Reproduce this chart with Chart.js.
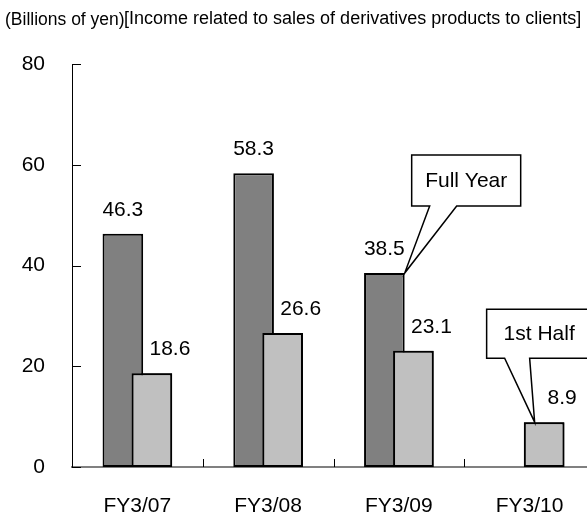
<!DOCTYPE html>
<html>
<head>
<meta charset="utf-8">
<script src="https://cdn.jsdelivr.net/npm/chart.js@4/dist/chart.umd.min.js"></script>
<style>
  html, body { margin: 0; padding: 0; background: #fff; overflow: hidden; }
  /* the plot runs a little past the right edge of the window, like the original */
  #wrap { width: 595px; height: 516px; position: relative; }
</style>
</head>
<body>
<div id="wrap"><canvas id="chart"></canvas></div>
<script>
// ---- data ----
const categories = ['FY3/07', 'FY3/08', 'FY3/09', 'FY3/10'];
const fullYear   = [46.3, 58.3, 38.5, null];
const firstHalf  = [18.6, 26.6, 23.1, 8.9];
const yTicks     = [0, 20, 40, 60, 80];

const unitText  = '(Billions of yen)';
const titleText = '[Income related to sales of derivatives products to clients]';
const fullYearNote  = 'Full Year';
const firstHalfNote = '1st Half';

const FONT = "'Liberation Sans', Arial, sans-serif";

// draws what the chart library has no option for: front bars, value labels,
// inward tick marks, heading and the two callouts
const overlay = {
  id: 'overlay',
  afterDatasetsDraw(chart) {
    const ctx = chart.ctx;
    // light bars overlap the dark ones and sit in front
    chart.getDatasetMeta(1).controller.draw();

    ctx.save();
    ctx.font = '21px ' + FONT;
    ctx.fillStyle = '#000';
    ctx.textAlign = 'center';
    ctx.textBaseline = 'alphabetic';
    chart.getDatasetMeta(0).data.forEach((bar, i) => {
      if (fullYear[i] == null) return;
      ctx.fillText(fullYear[i].toFixed(1), bar.x, bar.y - 18);
    });
    chart.getDatasetMeta(1).data.forEach((bar, i) => {
      if (firstHalf[i] == null) return;
      ctx.fillText(firstHalf[i].toFixed(1), bar.x + 18, bar.y - 18);
    });
    ctx.restore();
  },
  afterDraw(chart) {
    const ctx = chart.ctx;
    const x = chart.scales.x, y = chart.scales.y;
    const area = chart.chartArea;

    ctx.save();
    // tick marks point into the plot
    ctx.strokeStyle = '#000';
    ctx.lineWidth = 1;
    yTicks.forEach(v => {
      const py = Math.round(y.getPixelForValue(v)) + 0.5;
      ctx.beginPath();
      ctx.moveTo(area.left, py);
      ctx.lineTo(area.left + 9, py);
      ctx.stroke();
    });
    for (let i = 1; i <= categories.length; i++) {
      const px = Math.round(x.getPixelForValue(i - 0.5)) + 0.5;
      ctx.beginPath();
      ctx.moveTo(px, area.bottom);
      ctx.lineTo(px, area.bottom - 8);
      ctx.stroke();
    }

    // heading
    ctx.fillStyle = '#000';
    ctx.textAlign = 'left';
    ctx.textBaseline = 'alphabetic';
    ctx.font = '17.5px ' + FONT;
    ctx.fillText(unitText, 5, 25);
    ctx.font = '18px ' + FONT;
    ctx.fillText(titleText, 124, 24);

    // callouts
    const dark = chart.getDatasetMeta(0).data[2];
    const tipA = { x: dark.x + dark.width / 2, y: dark.y };
    callout(ctx, fullYearNote, tipA,
      { left: tipA.x + 7, top: tipA.y - 118, right: tipA.x + 116, bottom: tipA.y - 67 },
      tipA.x + 25, tipA.x + 52);

    const light = chart.getDatasetMeta(1).data[3];
    const tipB = { x: light.x - 9.5, y: light.y };
    callout(ctx, firstHalfNote, tipB,
      { left: light.x - 57.5, top: light.y - 113, right: light.x + 52, bottom: light.y - 64 },
      light.x - 39.5, light.x - 14.5, light.x - 5);
    ctx.restore();
  }
};

function callout(ctx, text, tip, box, p1, p2, textX) {
  ctx.beginPath();
  ctx.moveTo(box.left, box.top);
  ctx.lineTo(box.right, box.top);
  ctx.lineTo(box.right, box.bottom);
  ctx.lineTo(p2, box.bottom);
  ctx.lineTo(tip.x, tip.y);
  ctx.lineTo(p1, box.bottom);
  ctx.lineTo(box.left, box.bottom);
  ctx.closePath();
  ctx.fillStyle = '#fff';
  ctx.fill();
  ctx.strokeStyle = '#000';
  ctx.lineWidth = 1.5;
  ctx.stroke();

  ctx.fillStyle = '#000';
  ctx.font = '21px ' + FONT;
  ctx.textAlign = 'center';
  ctx.textBaseline = 'middle';
  const cx = textX != null ? textX : (box.left + box.right) / 2;
  ctx.fillText(text, cx, (box.top + box.bottom) / 2 + 1);
}

const barStyle = {
  borderColor: '#000',
  borderWidth: 2,
  borderSkipped: false,
  categoryPercentage: 0.444,
  barPercentage: 1.40
};

new Chart(document.getElementById('chart'), {
  type: 'bar',
  data: {
    labels: categories,
    datasets: [
      Object.assign({ label: 'Full Year', data: fullYear, backgroundColor: '#808080' }, barStyle),
      Object.assign({ label: '1st Half', data: firstHalf, backgroundColor: '#C0C0C0' }, barStyle)
    ]
  },
  options: {
    responsive: true,
    maintainAspectRatio: false,
    devicePixelRatio: 1,
    animation: false,
    layout: { padding: { top: 64, left: 0, right: 0, bottom: 0 } },
    plugins: {
      legend: { display: false },
      tooltip: { enabled: false }
    },
    scales: {
      x: {
        offset: true,
        grid: { display: false, drawTicks: false },
        border: { display: true, color: '#808080', width: 2 },
        ticks: { font: { family: FONT, size: 21 }, color: '#000', padding: 27 },
        afterFit(s) { s.height = 49; }
      },
      y: {
        min: 0,
        max: 80,
        grid: { display: false, drawTicks: false },
        border: { display: true, color: '#000', width: 1 },
        afterBuildTicks(s) { s.ticks = yTicks.map(v => ({ value: v })); },
        ticks: { font: { family: FONT, size: 21 }, color: '#000', padding: 27 },
        afterFit(s) { s.width = 72; }
      }
    }
  },
  plugins: [overlay]
});
</script>
</body>
</html>
